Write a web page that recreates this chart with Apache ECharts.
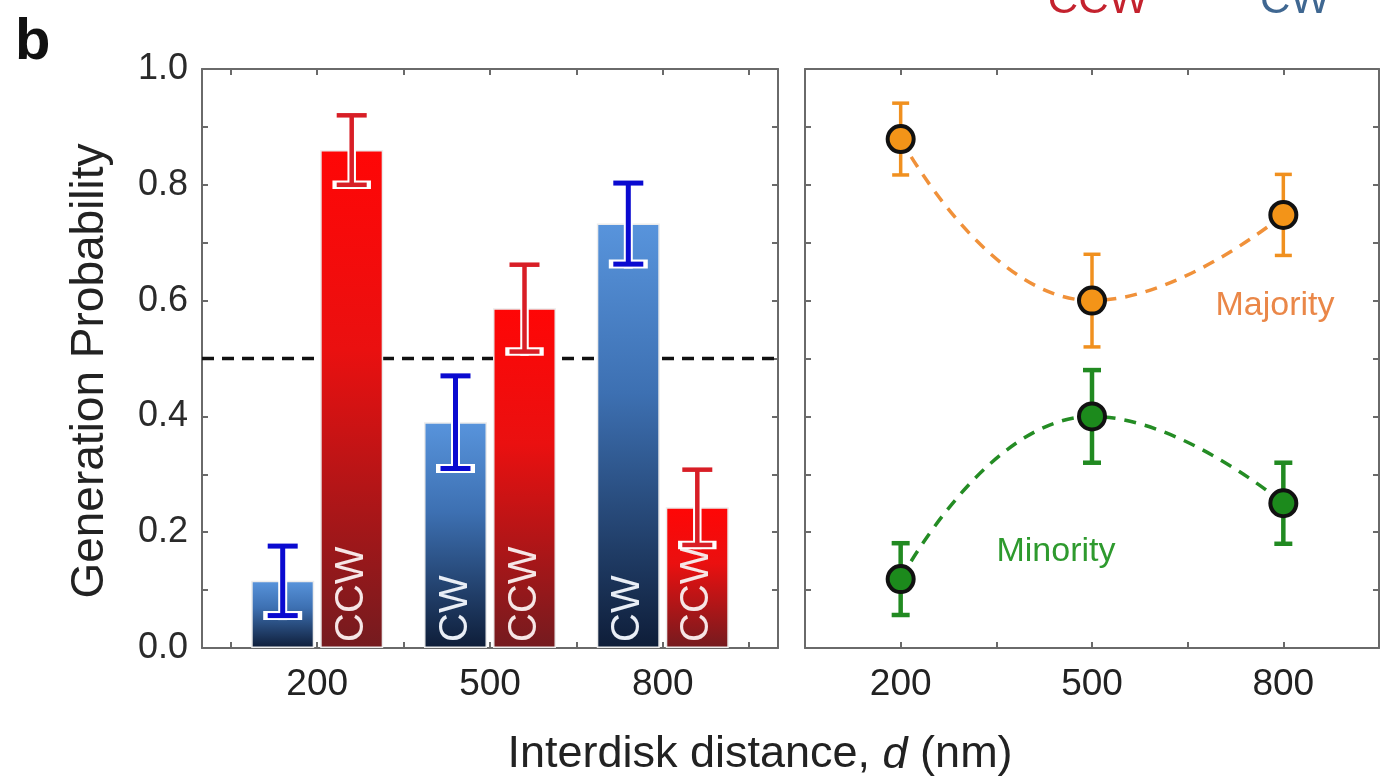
<!DOCTYPE html>
<html><head><meta charset="utf-8">
<script src="https://cdn.jsdelivr.net/npm/echarts@6/dist/echarts.min.js"></script>
<style>html,body{margin:0;padding:0;background:#fff}#c{width:1382px;height:781px}</style>
</head><body><div id="c"></div>
<script>
// ---- data ----
const distances = [200, 500, 800];
const cwValues = [0.116, 0.39, 0.733];
const cwErrors = [0.06, 0.08, 0.07];
const ccwValues = [0.86, 0.587, 0.243];
const ccwErrors = [0.06, 0.075, 0.065];
const majorityValues = [0.879, 0.600, 0.748];
const majorityErrors = [0.062, 0.08, 0.07];
const minorityValues = [0.119, 0.40, 0.25];
const minorityErrors = [0.062, 0.08, 0.07];
const yTickLabels = ['0.0', '0.2', '0.4', '0.6', '0.8', '1.0'];
const leftTickValues = [50, 200, 350, 500, 650, 800, 950];
const halfLine = 0.5;

const FONT = 'Liberation Sans, Arial, sans-serif';
const AX = '#6a6a6a';

function errData(vals, errs) {
  return distances.map((d, i) => [d, vals[i] - errs[i], vals[i] + errs[i]]);
}
function errRender(o) {
  return function (params, api) {
    const x = api.value(0), lo = api.value(1), hi = api.value(2);
    const pHi = api.coord([x, hi]), pLo = api.coord([x, lo]);
    const cx = pHi[0] + o.offset, hw = o.cap / 2;
    const segs = [
      [cx, pHi[1], cx, pLo[1]],
      [cx - hw, pHi[1], cx + hw, pHi[1]],
      [cx - hw, pLo[1], cx + hw, pLo[1]]
    ];
    const ch = [];
    if (o.halo) segs.forEach(s => ch.push({type: 'line', shape: {x1: s[0], y1: s[1], x2: s[2], y2: s[3]},
      style: {stroke: '#ffffff', lineWidth: o.width + 4, lineCap: 'square'}}));
    segs.forEach(s => ch.push({type: 'line', shape: {x1: s[0], y1: s[1], x2: s[2], y2: s[3]},
      style: {stroke: o.color, lineWidth: o.width, lineCap: 'butt'}}));
    return {type: 'group', children: ch};
  };
}
function xAx(grid, pos, min, max, labels, extra) {
  return Object.assign({
    type: 'value', gridIndex: grid, position: pos, min: min, max: max,
    axisLine: {show: true, onZero: false, lineStyle: {color: AX, width: 2}},
    axisTick: {show: true, inside: true, length: 6, lineStyle: {color: AX, width: 2}},
    axisLabel: {show: labels, fontSize: 37, color: '#222', margin: 18, fontFamily: FONT},
    splitLine: {show: false}
  }, extra || {});
}
function yAx(grid, pos, labels) {
  return {
    type: 'value', gridIndex: grid, position: pos, min: 0, max: 1, interval: 0.1,
    axisLine: {show: true, onZero: false, lineStyle: {color: AX, width: 2}},
    axisTick: {show: true, inside: true, length: 6, lineStyle: {color: AX, width: 2}},
    axisLabel: {show: labels, fontSize: 36, color: '#2a2a2a', margin: 14, fontFamily: FONT,
      formatter: v => yTickLabels.includes(v.toFixed(1)) ? v.toFixed(1) : ''},
    splitLine: {show: false}
  };
}
const G = echarts.graphic;
const cwGrad = new G.LinearGradient(0, 0, 0, 1, [
  {offset: 0, color: '#5894dc'}, {offset: 0.4, color: '#3d70b2'}, {offset: 1, color: '#0e1d38'}]);
const ccwGrad = new G.LinearGradient(0, 0, 0, 1, [
  {offset: 0, color: '#ff0606'}, {offset: 0.4, color: '#ea1010'}, {offset: 1, color: '#741b1f'}]);

const leftTicksX = {axisTick: {show: true, inside: true, length: 6, customValues: leftTickValues, lineStyle: {color: AX, width: 2}}};
const barLabel = (txt, col) => ({show: true, position: 'insideBottom', rotate: 90, align: 'left', verticalAlign: 'middle',
  distance: 6, fontSize: 40, color: col, fontFamily: FONT,
  formatter: p => p.value[1] > 0.2 ? txt : ''});

const option = {
  animation: false,
  textStyle: {fontFamily: FONT},
  grid: [
    {left: 202, top: 69, width: 576, height: 579},
    {left: 805, top: 69, width: 574, height: 579}
  ],
  xAxis: [
    xAx(0, 'bottom', 0, 1000, true, Object.assign({}, leftTicksX, {axisLabel: {show: true, customValues: distances, fontSize: 37, color: '#222', margin: 18, fontFamily: FONT}})),
    xAx(0, 'top', 0, 1000, false, leftTicksX),
    xAx(1, 'bottom', 50, 950, true, {interval: 150, axisLabel: {show: true, fontSize: 37, color: '#222', margin: 18, fontFamily: FONT,
      formatter: v => distances.includes(v) ? String(v) : ''}}),
    xAx(1, 'top', 50, 950, false, {interval: 150})
  ],
  yAxis: [yAx(0, 'left', true), yAx(0, 'right', false), yAx(1, 'left', false), yAx(1, 'right', false)],
  series: [
    {type: 'line', xAxisIndex: 0, yAxisIndex: 0, z: 1, symbol: 'none', silent: true,
      data: [[0, halfLine], [1000, halfLine]],
      lineStyle: {color: '#111', width: 3.5, type: [12, 8]}},
    {name: 'CW', type: 'bar', xAxisIndex: 0, yAxisIndex: 0, barWidth: 63, barGap: '9.5%', z: 2,
      data: distances.map((d, i) => [d, cwValues[i]]),
      itemStyle: {color: cwGrad, borderColor: '#ececec', borderWidth: 1.5},
      label: barLabel('CW', '#e9eef6')},
    {name: 'CCW', type: 'bar', xAxisIndex: 0, yAxisIndex: 0, barWidth: 63, barGap: '9.5%', z: 2,
      data: distances.map((d, i) => [d, ccwValues[i]]),
      itemStyle: {color: ccwGrad, borderColor: '#ececec', borderWidth: 1.5},
      label: barLabel('CCW', '#f6e6e6')},
    {type: 'custom', xAxisIndex: 0, yAxisIndex: 0, z: 3, encode: {x: 0, y: [1, 2]},
      data: errData(cwValues, cwErrors),
      renderItem: errRender({offset: -34.5, cap: 30, width: 5, color: '#0a0ad0', halo: true})},
    {type: 'custom', xAxisIndex: 0, yAxisIndex: 0, z: 3, encode: {x: 0, y: [1, 2]},
      data: errData(ccwValues, ccwErrors),
      renderItem: errRender({offset: 34.5, cap: 30, width: 4.5, color: '#d81e26', halo: true})},
    {type: 'custom', xAxisIndex: 2, yAxisIndex: 2, z: 3, encode: {x: 0, y: [1, 2]},
      data: errData(majorityValues, majorityErrors),
      renderItem: errRender({offset: 0, cap: 17, width: 3.5, color: '#f0901f', halo: false})},
    {type: 'custom', xAxisIndex: 2, yAxisIndex: 2, z: 3, encode: {x: 0, y: [1, 2]},
      data: errData(minorityValues, minorityErrors),
      renderItem: errRender({offset: 0, cap: 18, width: 4.5, color: '#218a21', halo: false})},
    {name: 'Majority', type: 'line', xAxisIndex: 2, yAxisIndex: 2, z: 4, smooth: true,
      data: distances.map((d, i) => [d, majorityValues[i]]),
      symbol: 'circle', symbolSize: 26,
      itemStyle: {color: '#f39418', borderColor: '#111', borderWidth: 4},
      lineStyle: {color: '#f0913a', width: 3.5, type: [12, 9]}},
    {name: 'Minority', type: 'line', xAxisIndex: 2, yAxisIndex: 2, z: 4, smooth: true,
      data: distances.map((d, i) => [d, minorityValues[i]]),
      symbol: 'circle', symbolSize: 26,
      itemStyle: {color: '#1c8a1c', borderColor: '#111', borderWidth: 4},
      lineStyle: {color: '#248c24', width: 3.5, type: [12, 9]}}
  ],
  graphic: [
    {type: 'text', x: 15, y: 43, style: {text: 'b', font: 'bold 58px ' + FONT, fill: '#111', align: 'left', verticalAlign: 'middle'}},
    {type: 'text', x: 1098, y: 1, style: {text: 'CCW', font: '42px ' + FONT, fill: '#c4222e', align: 'center', verticalAlign: 'middle'}},
    {type: 'text', x: 1295, y: 1, style: {text: 'CW', font: '42px ' + FONT, fill: '#3f6791', align: 'center', verticalAlign: 'middle'}},
    {type: 'text', x: 90, y: 371, rotation: Math.PI / 2, style: {text: 'Generation Probability', font: '46px ' + FONT, fill: '#222', align: 'center', verticalAlign: 'middle'}},
    {type: 'text', x: 760, y: 755, style: {text: 'Interdisk distance, {i|d} (nm)', font: '45px ' + FONT, fill: '#222', align: 'center', verticalAlign: 'middle',
      rich: {i: {fontStyle: 'italic', fontSize: 45, fontFamily: FONT, fill: '#222'}}}},
    {type: 'text', x: 1275, y: 306, style: {text: 'Majority', font: '34px ' + FONT, fill: '#ea8748', align: 'center', verticalAlign: 'middle'}},
    {type: 'text', x: 1056, y: 552, style: {text: 'Minority', font: '34px ' + FONT, fill: '#2e9a2e', align: 'center', verticalAlign: 'middle'}}
  ]
};
echarts.init(document.getElementById('c')).setOption(option);
</script>
</body></html>
